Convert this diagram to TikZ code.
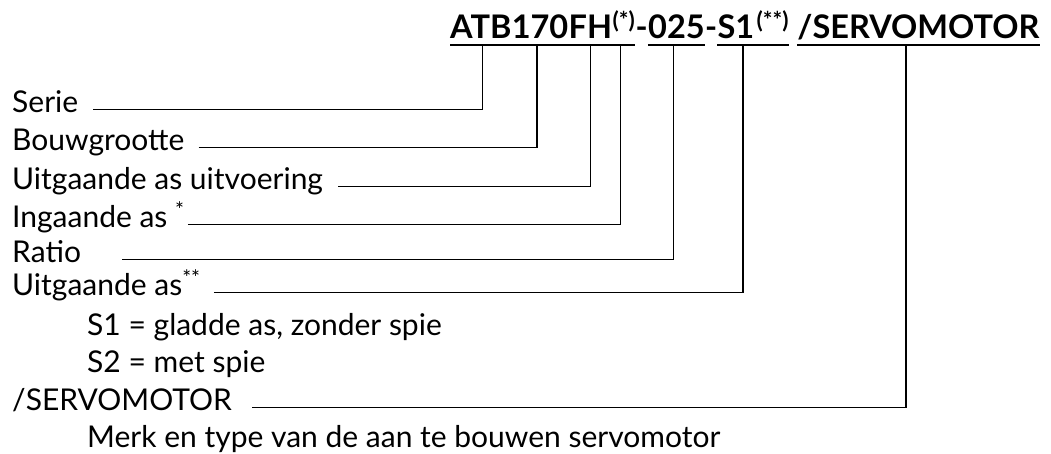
\documentclass[tikz,border=0pt]{standalone}
\usepackage{fontspec}
\setmainfont{Lato}
\usepackage{tikz}
\usetikzlibrary{positioning,calc}

\begin{document}
\begin{tikzpicture}[x=1pt,y=-1pt,
    every node/.style={inner sep=0pt,anchor=base west},
    title/.style={font=\fontsize{32.5}{38}\selectfont\bfseries},
    label/.style={font=\fontsize{30}{36}\selectfont},
    lead/.style={line width=1.6pt},
    uline/.style={line width=1.6pt}]
    \useasboundingbox (0,0) rectangle (1051,453);
    % type code
    \node[title] (atb) at (450,38) {ATB};
    \node[title,base right=0pt of atb] (n170) {170};
    \node[title,base right=0pt of n170] (fh) {FH};
    \node[title,base right=0pt of fh] (st1) {\textsuperscript{(*)}};
    \node[title,base right=0pt of st1] (d1) {-};
    \node[title,base right=0pt of d1] (ratiocode) {025};
    \node[title,base right=0pt of ratiocode] (d2) {-};
    \node[title,base right=0pt of d2] (s1) {S1};
    \node[title,base right=2pt of s1] (st2) {\textsuperscript{(**)}};
    \node[title,base right=8pt of st2] (motor) {/SERVOMOTOR};
    % underlines
    \foreach \a/\b in {atb/atb,n170/n170,fh/fh,st1/st1,ratiocode/ratiocode,s1/st2,motor/motor}
      \draw[uline] ([yshift=-7pt]\a.base west) -- ([yshift=-7pt]\b.base east);
    % taps
    \coordinate (tATB) at ([yshift=-7pt]$(atb.base west)!0.53!(atb.base east)$);
    \coordinate (t170) at ([yshift=-7pt]$(n170.base west)!0.45!(n170.base east)$);
    \coordinate (tFH) at ([yshift=-7pt]$(fh.base west)!0.5!(fh.base east)$);
    \coordinate (tST) at ([yshift=-7pt]$(st1.base west)!0.35!(st1.base east)$);
    \coordinate (tRAT) at ([yshift=-7pt]$(ratiocode.base west)!0.45!(ratiocode.base east)$);
    \coordinate (tS1) at ([yshift=-7pt]$(s1.base west)!0.36!(st2.base east)$);
    \coordinate (tMOT) at ([yshift=-7pt]$(motor.base west)!0.45!(motor.base east)$);
    % labels
    \node[label] (serie) at (12,112) {Serie};
    \node[label] (bouw) at (12,150) {Bouwgrootte};
    \node[label] (uitv) at (12,189) {Uitgaande as uitvoering};
    \node[label] (ingas) at (12,227) {Ingaande as \textsuperscript{*}};
    \node[label] (ratio) at (12,262) {Ratio};
    \node[label] (uitas) at (12,295) {Uitgaande as\textsuperscript{**}};
    \node[label] (s1opt) at (87,335) {S1 = gladde as, zonder spie};
    \node[label] (s2opt) at (87,372) {S2 = met spie};
    \node[label] (servo) at (12,410) {/SERVOMOTOR};
    \node[label] (merk) at (87,447) {Merk en type van de aan te bouwen servomotor};
    % leaders
    \foreach \lab/\gap/\tap in {serie/15/tATB,bouw/14/t170,uitv/15/tFH,ingas/3/tST,
        ratio/41/tRAT,uitas/13/tS1,servo/20/tMOT}
      \draw[lead] ([xshift=\gap pt]\lab.mid east) -| (\tap);
\end{tikzpicture}
\end{document}
